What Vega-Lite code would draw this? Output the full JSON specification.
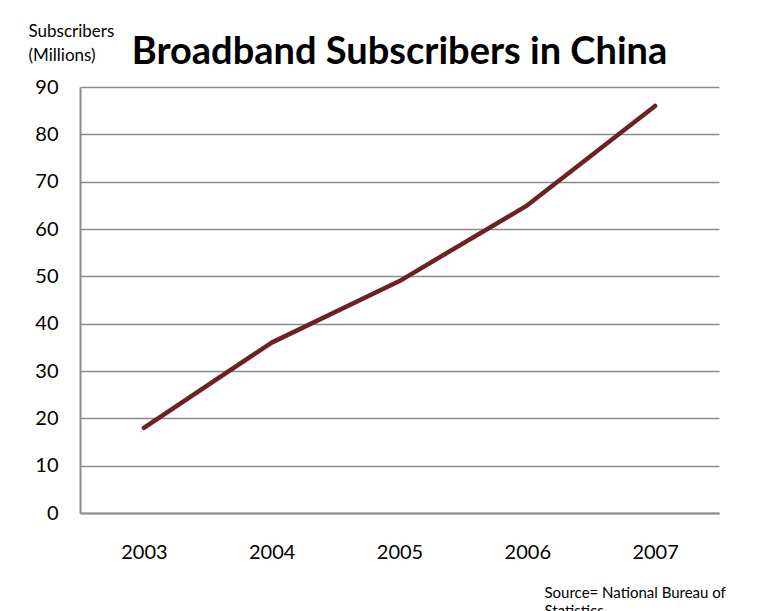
{
  "$schema": "https://vega.github.io/schema/vega-lite/v6.json",
  "width": 639,
  "height": 426,
  "autosize": "none",
  "padding": {"left": 80, "top": 87, "right": 58, "bottom": 98},
  "background": "white",
  "config": {"view": {"stroke": null}, "font": "Lato"},
  "title": {
    "text": "Broadband Subscribers in China",
    "font": "Lato",
    "fontSize": 38,
    "fontWeight": "bold",
    "anchor": "middle",
    "color": "black",
    "baseline": "alphabetic",
    "offset": 18,
    "dy": 98
  },
  "data": {
    "values": [
      {"year": "2003", "subscribers": 18},
      {"year": "2004", "subscribers": 36},
      {"year": "2005", "subscribers": 49},
      {"year": "2006", "subscribers": 65},
      {"year": "2007", "subscribers": 86}
    ]
  },
  "mark": {"type": "line", "color": "#6D2222", "strokeWidth": 4.5, "strokeCap": "round", "strokeJoin": "round"},
  "encoding": {
    "x": {
      "field": "year",
      "type": "ordinal",
      "axis": {
        "labelAngle": 0,
        "labelFontSize": 20,
        "labelColor": "black",
        "labelPadding": 29,
        "ticks": false,
        "tickSize": 0,
        "grid": false,
        "domainColor": "#8C8C8C",
        "domainWidth": 2,
        "title": ["Source= National Bureau of", "Statistics"],
        "titleFontSize": 15,
        "titleFontWeight": "normal",
        "titleColor": "black",
        "titleAlign": "left",
        "titleBaseline": "top",
        "titleAnchor": "start",
        "titleX": 464,
        "titleY": 72,
        "titleLineHeight": 18
      }
    },
    "y": {
      "field": "subscribers",
      "type": "quantitative",
      "scale": {"domain": [0, 90], "nice": false},
      "axis": {
        "values": [0, 10, 20, 30, 40, 50, 60, 70, 80, 90],
        "labelFontSize": 20,
        "labelColor": "black",
        "labelPadding": 22,
        "ticks": false,
        "tickSize": 0,
        "grid": true,
        "gridColor": "#8C8C8C",
        "gridWidth": 1.5,
        "domainColor": "#8C8C8C",
        "domainWidth": 2,
        "title": ["Subscribers", "(Millions)"],
        "titleFontSize": 17,
        "titleFontWeight": "normal",
        "titleColor": "black",
        "titleAngle": 0,
        "titleAlign": "left",
        "titleBaseline": "top",
        "titleX": -52,
        "titleY": -64,
        "titleLineHeight": 24
      }
    }
  }
}
